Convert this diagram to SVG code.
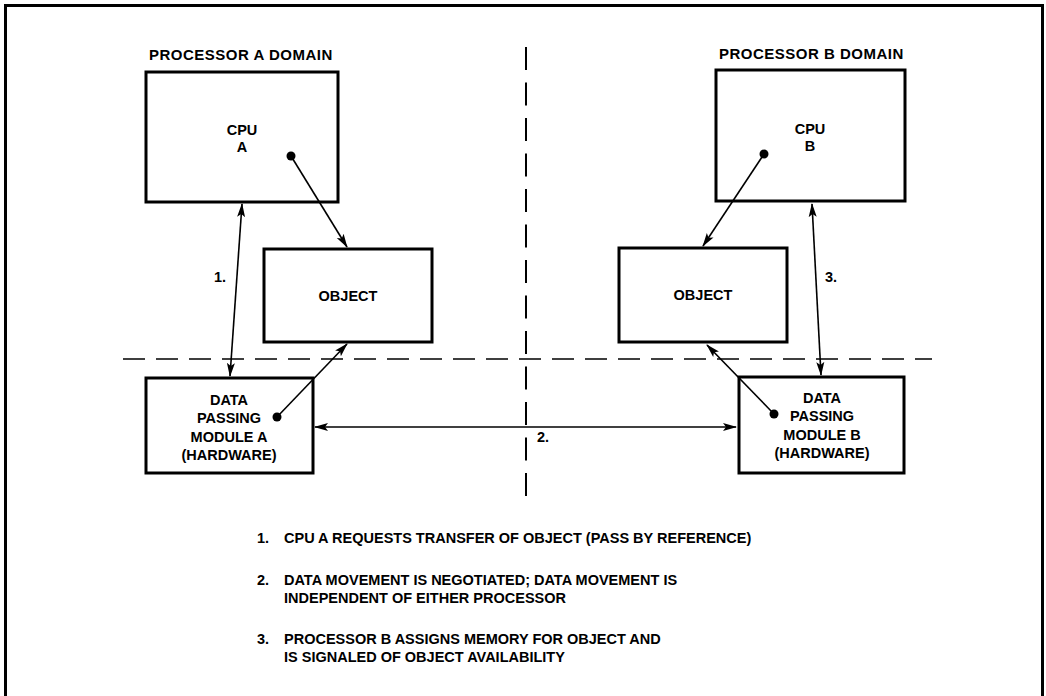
<svg xmlns="http://www.w3.org/2000/svg" width="1046" height="696" viewBox="0 0 1046 696">
<defs>
<style>
.box{fill:#fff;stroke:#000;stroke-width:3}
.t{font-family:"Liberation Sans",Arial,sans-serif;font-weight:bold;font-size:14.5px;fill:#000}
.title{font-size:15px;letter-spacing:0.5px}
.c{stroke:#000;stroke-width:1.6;fill:none}
.dash{stroke:#000;fill:none}
</style>
<marker id="ah" markerUnits="userSpaceOnUse" markerWidth="14" markerHeight="10" refX="13" refY="4" orient="auto-start-reverse" viewBox="0 0 14 8">
<path d="M0,0 L14,4 L0,8 L3,4 z" fill="#000"/>
</marker>
</defs>
<rect x="0" y="0" width="1046" height="696" fill="#fff"/>
<rect x="5.5" y="5.5" width="1037" height="700" fill="none" stroke="#000" stroke-width="3"/>

<g id="dividers">
<line class="dash" x1="123" y1="359" x2="932" y2="359" stroke-width="1.6" stroke-dasharray="22 11"/>
<line class="dash" x1="526" y1="47" x2="526" y2="497" stroke-width="2" stroke-dasharray="23 12.5"/>
</g>

<g id="labels">
<text class="t title" x="149" y="60">PROCESSOR A DOMAIN</text>
<text class="t title" x="719" y="59">PROCESSOR B DOMAIN</text>
<text class="t" x="214" y="282">1.</text>
<text class="t" x="537" y="442">2.</text>
<text class="t" x="825" y="282">3.</text>
</g>

<g id="cpuA">
<rect class="box" x="146" y="72" width="192" height="130"/>
<text class="t" text-anchor="middle" x="242" y="135">CPU</text>
<text class="t" text-anchor="middle" x="242" y="152">A</text>
</g>
<g id="objectA">
<rect class="box" x="264" y="249" width="168" height="93"/>
<text class="t" text-anchor="middle" x="348" y="301" font-size="15">OBJECT</text>
</g>
<g id="dpmA">
<rect class="box" x="146" y="378" width="167" height="95"/>
<text class="t" text-anchor="middle" x="229" y="405">DATA</text>
<text class="t" text-anchor="middle" x="229" y="423">PASSING</text>
<text class="t" text-anchor="middle" x="229" y="442">MODULE A</text>
<text class="t" text-anchor="middle" x="229" y="460">(HARDWARE)</text>
</g>
<g id="cpuB">
<rect class="box" x="716" y="70" width="189" height="131"/>
<text class="t" text-anchor="middle" x="810" y="134">CPU</text>
<text class="t" text-anchor="middle" x="810" y="151">B</text>
</g>
<g id="objectB">
<rect class="box" x="619" y="248" width="168" height="94"/>
<text class="t" text-anchor="middle" x="703" y="300" font-size="15">OBJECT</text>
</g>
<g id="dpmB">
<rect class="box" x="739" y="377" width="165" height="96"/>
<text class="t" text-anchor="middle" x="822" y="403">DATA</text>
<text class="t" text-anchor="middle" x="822" y="421">PASSING</text>
<text class="t" text-anchor="middle" x="822" y="440">MODULE B</text>
<text class="t" text-anchor="middle" x="822" y="458">(HARDWARE)</text>
</g>

<g id="connectors">
<circle cx="291" cy="156" r="4.5" fill="#000"/>
<line class="c" x1="291" y1="156" x2="347" y2="247" marker-end="url(#ah)"/>
<circle cx="277" cy="417" r="4.5" fill="#000"/>
<line class="c" x1="277" y1="417" x2="347" y2="344" marker-end="url(#ah)"/>
<line class="c" x1="230" y1="376" x2="242" y2="204" marker-start="url(#ah)" marker-end="url(#ah)"/>
<line class="c" x1="315" y1="427" x2="736" y2="427" marker-start="url(#ah)" marker-end="url(#ah)"/>
<circle cx="764" cy="154" r="4.5" fill="#000"/>
<line class="c" x1="764" y1="154" x2="703" y2="246" marker-end="url(#ah)"/>
<circle cx="774" cy="414" r="4.5" fill="#000"/>
<line class="c" x1="774" y1="414" x2="707" y2="345" marker-end="url(#ah)"/>
<line class="c" x1="812" y1="204" x2="821" y2="375" marker-start="url(#ah)" marker-end="url(#ah)"/>
</g>

<g id="notes">
<text class="t" y="543"><tspan x="257">1.</tspan><tspan x="284">CPU A REQUESTS TRANSFER OF OBJECT (PASS BY REFERENCE)</tspan></text>
<text class="t" y="585"><tspan x="257">2.</tspan><tspan x="284">DATA MOVEMENT IS NEGOTIATED; DATA MOVEMENT IS</tspan></text>
<text class="t" x="284" y="603">INDEPENDENT OF EITHER PROCESSOR</text>
<text class="t" y="644"><tspan x="257">3.</tspan><tspan x="284">PROCESSOR B ASSIGNS MEMORY FOR OBJECT AND</tspan></text>
<text class="t" x="284" y="662">IS SIGNALED OF OBJECT AVAILABILITY</text>
</g>
</svg>
